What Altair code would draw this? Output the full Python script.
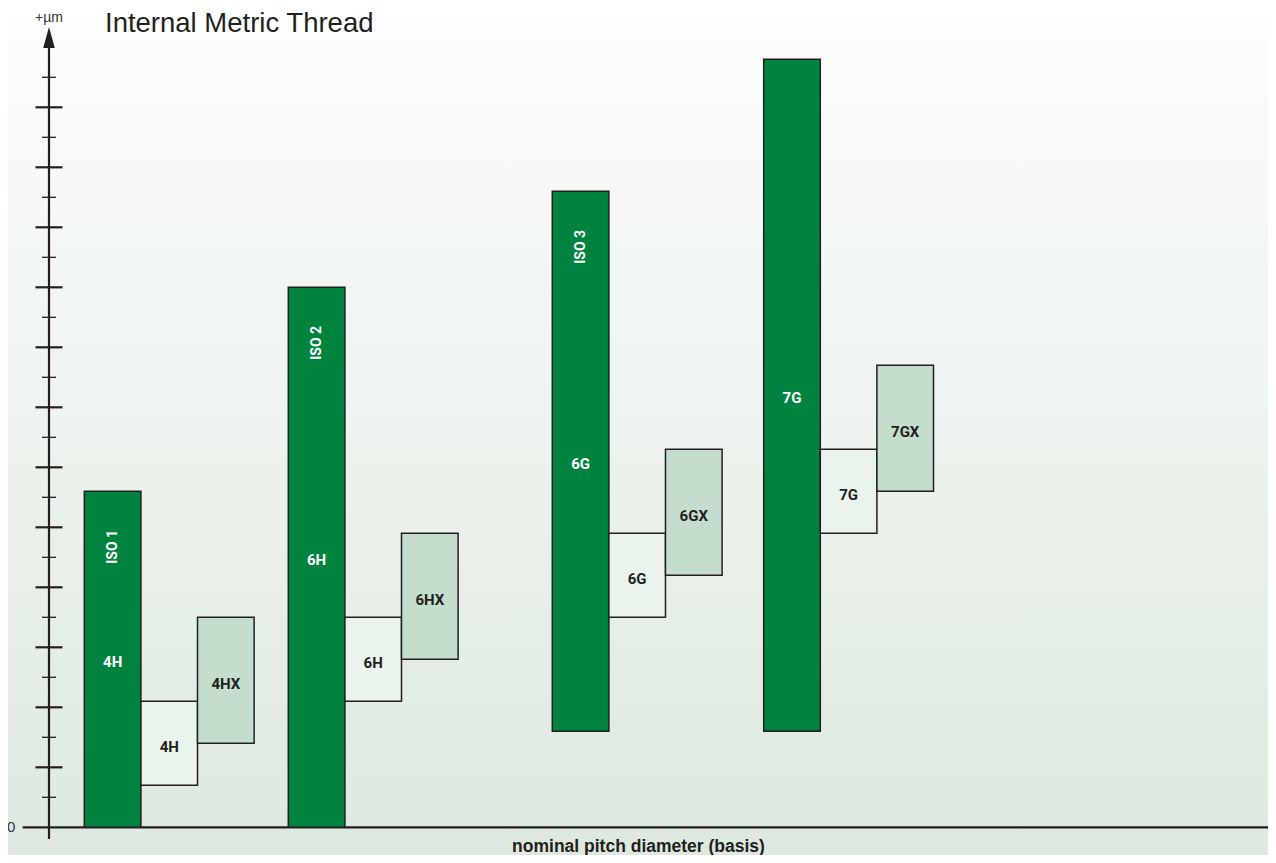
import altair as alt
import pandas as pd

# ---------------- data ----------------
groups = ["ISO 1", "ISO 2", "ISO 3", ""]
tolerances = ["4H", "6H", "6G", "7G"]
x_labels = ["4HX", "6HX", "6GX", "7GX"]
group_start = [0.624, 4.228, 8.892, 12.627]      # in bar widths from the y axis
iso_low = [0.0, 0.0, 3.2, 3.2]
iso_high = [11.2, 18.0, 21.2, 25.6]
nom_low = [1.4, 4.2, 7.0, 9.8]
nom_high = [4.2, 7.0, 9.8, 12.6]
x_low = [2.8, 5.6, 8.4, 11.2]
x_high = [7.0, 9.8, 12.6, 15.4]
minor_ticks = [1, 3, 5, 7, 9, 11, 13, 15, 17, 19, 21, 23, 25]
major_ticks = [2, 4, 6, 8, 10, 12, 14, 16, 18, 20, 22, 24]

title_text = "Internal Metric Thread"
x_title = "nominal pitch diameter (basis)"
y_unit = "+µm"

# ---------------- styling ----------------
W, H = 1260, 847
X_DOMAIN = [-0.7244, 21.537]
Y_DOMAIN = [-0.923, 27.31]
DARK = "#231f20"
GREEN = "#00833e"
NOM_FILL = "#ebf3ed"
X_FILL = "#c5ddcd"
NARROW = "Roboto, Liberation Sans, sans-serif"
SANS = "Liberation Sans, Arial, Helvetica, sans-serif"

xs = alt.Scale(domain=X_DOMAIN, nice=False, zero=False)
ys = alt.Scale(domain=Y_DOMAIN, nice=False, zero=False)

def X(f):
    return alt.X(f, scale=xs, axis=None)

def Y(f):
    return alt.Y(f, scale=ys, axis=None)

# rectangles
rows = []
for i in range(4):
    s = group_start[i]
    rows.append(dict(kind="iso", x0=s, x1=s + 1, y0=iso_low[i], y1=iso_high[i]))
    rows.append(dict(kind="nom", x0=s + 1, x1=s + 2, y0=nom_low[i], y1=nom_high[i]))
    rows.append(dict(kind="x", x0=s + 2, x1=s + 3, y0=x_low[i], y1=x_high[i]))
rects = pd.DataFrame(rows)

green_lab = pd.DataFrame(dict(
    x=[s + 0.5 for s in group_start],
    y=[(a + b) / 2 for a, b in zip(iso_low, iso_high)],
    t=tolerances))
iso_lab = pd.DataFrame(dict(
    x=[s + 0.5 for s in group_start],
    y=[h - 1.85 for h in iso_high],
    t=groups))
iso_lab = iso_lab[iso_lab.t != ""]
nom_lab = pd.DataFrame(dict(
    x=[s + 1.5 for s in group_start],
    y=[(a + b) / 2 for a, b in zip(nom_low, nom_high)],
    t=tolerances))
x_lab = pd.DataFrame(dict(
    x=[s + 2.5 for s in group_start],
    y=[(a + b) / 2 for a, b in zip(x_low, x_high)],
    t=x_labels))

background = alt.Chart(pd.DataFrame({"a": [0]})).mark_rect(
    fill=alt.Gradient(
        gradient="linear",
        stops=[alt.GradientStop(color="#ffffff", offset=0),
               alt.GradientStop(color="#fbfcfb", offset=0.05),
               alt.GradientStop(color="#dde9df", offset=1)],
        x1=0, x2=0, y1=0, y2=1),
).encode(x=alt.value(0), x2=alt.value(W), y=alt.value(0), y2=alt.value(H))

x_axis = alt.Chart(pd.DataFrame(dict(x=[-0.465], x2=[X_DOMAIN[1]], y=[0]))).mark_rule(
    color=DARK, strokeWidth=2.2
).encode(x=X("x:Q"), x2="x2:Q", y=Y("y:Q"))

bars = alt.Chart(rects).mark_rect(stroke=DARK, strokeWidth=1.5).encode(
    x=X("x0:Q"), x2="x1:Q", y=Y("y0:Q"), y2="y1:Q",
    fill=alt.Fill("kind:N", scale=alt.Scale(domain=["iso", "nom", "x"],
                                            range=[GREEN, NOM_FILL, X_FILL]), legend=None),
)

y_axis = alt.Chart(pd.DataFrame(dict(x=[0], y=[-0.39], y2=[26.0]))).mark_rule(
    color=DARK, strokeWidth=2.2
).encode(x=X("x:Q"), y=Y("y:Q"), y2="y2:Q")

arrow = alt.Chart(pd.DataFrame(dict(x=[0], y=[26.33]))).mark_point(
    shape="M0,-1L0.55,1L-0.55,1Z", size=441, filled=True, fill=DARK,
    strokeWidth=0, opacity=1
).encode(x=X("x:Q"), y=Y("y:Q"))

major = alt.Chart(pd.DataFrame(dict(x=[0] * len(major_ticks), y=major_ticks))).mark_tick(
    orient="horizontal", size=27, thickness=2.2, color=DARK, opacity=1
).encode(x=X("x:Q"), y=Y("y:Q"))

minor = alt.Chart(pd.DataFrame(dict(x=[0] * len(minor_ticks), y=minor_ticks))).mark_tick(
    orient="horizontal", size=14, thickness=1.3, color=DARK, opacity=1
).encode(x=X("x:Q"), y=Y("y:Q"))

t_green = alt.Chart(green_lab).mark_text(
    font=NARROW, fontSize=15, fontWeight="bold", color="#ffffff", baseline="middle", dy=3
).encode(x=X("x:Q"), y=Y("y:Q"), text="t:N")

t_iso = alt.Chart(iso_lab).mark_text(
    font=NARROW, fontSize=14, fontWeight="bold", color="#ffffff", baseline="middle",
    align="center", angle=270
).encode(x=X("x:Q"), y=Y("y:Q"), text="t:N")

t_nom = alt.Chart(nom_lab).mark_text(
    font=NARROW, fontSize=15, fontWeight="bold", color=DARK, baseline="middle", dy=4
).encode(x=X("x:Q"), y=Y("y:Q"), text="t:N")

t_x = alt.Chart(x_lab).mark_text(
    font=NARROW, fontSize=15, fontWeight="bold", color=DARK, baseline="middle", dy=4
).encode(x=X("x:Q"), y=Y("y:Q"), text="t:N")

zero_lab = alt.Chart(pd.DataFrame(dict(x=[-0.67], y=[0], t=["0"]))).mark_text(
    font=SANS, fontSize=15, color="#333333", baseline="middle", align="center"
).encode(x=X("x:Q"), y=Y("y:Q"), text="t:N")

unit_lab = alt.Chart(pd.DataFrame(dict(x=[0], y=[26.86], t=[y_unit]))).mark_text(
    font=SANS, fontSize=14, color="#333333", baseline="alphabetic", align="center"
).encode(x=X("x:Q"), y=Y("y:Q"), text="t:N")

xtitle = alt.Chart(pd.DataFrame(dict(x=[10.415], y=[-0.82], t=[x_title]))).mark_text(
    font=SANS, fontSize=17.5, fontWeight="bold", color=DARK, baseline="alphabetic", align="center"
).encode(x=X("x:Q"), y=Y("y:Q"), text="t:N")

title = alt.Chart(pd.DataFrame(dict(t=[title_text]))).mark_text(
    font=SANS, fontSize=27.5, color=DARK, baseline="alphabetic", align="left"
).encode(x=alt.value(97), y=alt.value(24), text="t:N")

chart = alt.layer(
    background, x_axis, bars, y_axis, arrow, major, minor,
    t_green, t_iso, t_nom, t_x, zero_lab, unit_lab, xtitle, title
).properties(
    width=W, height=H, padding=0,
    autosize=alt.AutoSizeParams(type="none"),
    background="#ffffff",
).configure_view(stroke=None)

chart.save("out.html", embed_options={"renderer": "svg", "actions": False})
